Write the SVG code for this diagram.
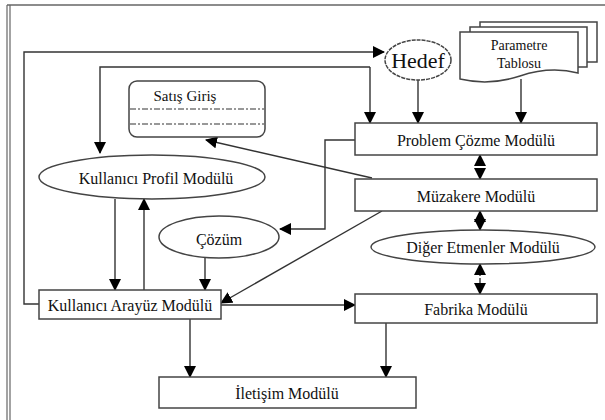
<svg xmlns="http://www.w3.org/2000/svg" width="605" height="420" viewBox="0 0 605 420">
<defs>
<marker id="ah" markerWidth="12" markerHeight="12" refX="11" refY="6" orient="auto" markerUnits="userSpaceOnUse">
<path d="M0,0 L12,6 L0,12 Z" fill="#000"/>
</marker>
<style>
.box{fill:#fff;stroke:#444;stroke-width:1.5}
.ell{fill:#fff;stroke:#444;stroke-width:1.5}
.ln{fill:none;stroke:#333;stroke-width:1.4}
.t{font-family:"Liberation Serif","DejaVu Serif",serif;font-size:16px;fill:#111;text-anchor:middle;dominant-baseline:central}
.dd{stroke:#333;stroke-width:1.2;stroke-dasharray:6,2,2,2}
</style>
</defs>
<rect width="605" height="420" fill="#fff"/>
<g id="frame">
<line x1="7" y1="5" x2="605" y2="5" stroke="#666" stroke-width="1.5"/>
<line x1="7" y1="5" x2="7" y2="420" stroke="#666" stroke-width="1.2"/>
<line x1="10" y1="5" x2="10" y2="420" stroke="#666" stroke-width="1.2"/>
</g>
<g id="connectors">
<path class="ln" d="M39,304 H24 V52 H384" marker-end="url(#ah)"/>
<path class="ln" d="M370,67 H100 V153" marker-end="url(#ah)"/>
<path class="ln" d="M370,67 V123" marker-end="url(#ah)"/>
<path class="ln" d="M418,80 V123" marker-end="url(#ah)"/>
<path class="ln" d="M521,79 V123" marker-end="url(#ah)"/>
<path class="ln" d="M355,140 H325 V229 H280" marker-end="url(#ah)"/>
<path class="ln" d="M372,178 L206,140" marker-end="url(#ah)"/>
<path class="ln" d="M382,211 L221,303" marker-end="url(#ah)"/>
<path class="ln" d="M115,199 V290" marker-end="url(#ah)"/>
<path class="ln" d="M144,290 V199" marker-end="url(#ah)"/>
<path class="ln" d="M205,258 V290" marker-end="url(#ah)"/>
<path class="ln" d="M221,305 H355" marker-end="url(#ah)"/>
<path class="ln" d="M190,319 V377" marker-end="url(#ah)"/>
<path class="ln" d="M386,323 V377" marker-end="url(#ah)"/>
<path class="ln" d="M480,166 V155" marker-end="url(#ah)"/>
<path class="ln" d="M480,168 V179" marker-end="url(#ah)"/>
<path class="ln" d="M480,220 V211" marker-end="url(#ah)"/>
<path class="ln" d="M480,222 V230" marker-end="url(#ah)"/>
<path class="ln" d="M480,276 V264" marker-end="url(#ah)"/>
<path class="ln" d="M480,278 V294" marker-end="url(#ah)"/>
</g>
<g id="satis-giris">
<rect class="box" x="129" y="81" width="136" height="56" rx="8"/>
<text class="t" x="185" y="96" style="font-size:15px">Satış Giriş</text>
<line class="dd" x1="130" y1="109" x2="264" y2="109"/>
<line class="dd" x1="130" y1="124" x2="264" y2="124"/>
</g>
<g id="hedef">
<ellipse class="ell" cx="418" cy="60" rx="33" ry="20" stroke="#666" stroke-width="1.1" stroke-dasharray="4,1"/>
<text class="t" x="418" y="60" style="font-size:22px">Hedef</text>
</g>
<g id="parametre-tablosu">
<path class="box" d="M480,27 V22 H597 V62 H587"/>
<path class="box" d="M470,32 V27 H587 V67 H578"/>
<path class="box" d="M460,32 H578 V73 Q550,66 520,76 Q490,86 460,79 Z"/>
<text class="t" x="519" y="45" style="font-size:14px">Parametre</text>
<text class="t" x="519" y="63" style="font-size:14px">Tablosu</text>
</g>
<g id="problem-cozme">
<rect class="box" x="355" y="123" width="242" height="32"/>
<text class="t" x="476" y="140">Problem Çözme Modülü</text>
</g>
<g id="muzakere">
<rect class="box" x="355" y="179" width="242" height="32"/>
<text class="t" x="476" y="196">Müzakere Modülü</text>
</g>
<g id="diger-etmenler">
<ellipse class="ell" cx="483" cy="247" rx="112" ry="17"/>
<text class="t" x="483" y="247">Diğer Etmenler Modülü</text>
</g>
<g id="fabrika">
<rect class="box" x="355" y="294" width="242" height="29"/>
<text class="t" x="476" y="309">Fabrika Modülü</text>
</g>
<g id="kullanici-profil">
<ellipse class="ell" cx="152" cy="177" rx="113" ry="22"/>
<text class="t" x="156" y="178">Kullanıcı Profil Modülü</text>
</g>
<g id="cozum">
<ellipse class="ell" cx="219" cy="237" rx="60" ry="21"/>
<text class="t" x="219" y="239">Çözüm</text>
</g>
<g id="kullanici-arayuz">
<rect class="box" x="39" y="290" width="182" height="29"/>
<text class="t" x="130" y="305">Kullanıcı Arayüz Modülü</text>
</g>
<g id="iletisim">
<rect class="box" x="159" y="377" width="257" height="31"/>
<text class="t" x="287" y="393">İletişim Modülü</text>
</g>
</svg>
